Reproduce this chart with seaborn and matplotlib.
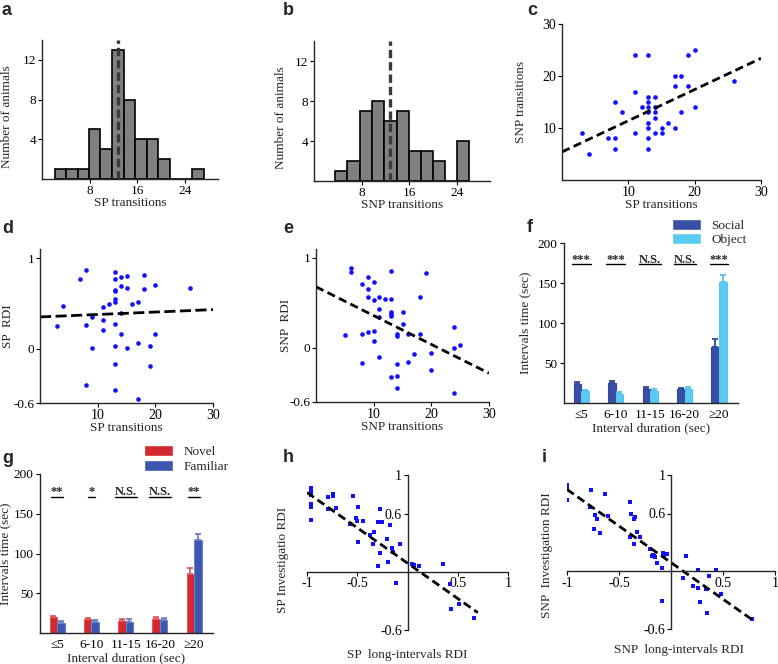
import numpy as np
import pandas as pd
import matplotlib
matplotlib.use('Agg')
import matplotlib.pyplot as plt
import seaborn as sns

# ---- values ----
# a: SP transitions histogram
sp_edges = [2.2, 4.1, 6.0, 7.9, 9.8, 11.7, 13.7, 15.6, 17.6, 19.5, 21.4, 23.3, 25.2, 27.1]
sp_counts = [1, 1, 1, 5, 3, 13, 8, 4, 4, 2, 0, 0, 1]
sp_mean = 12.7

# b: SNP transitions histogram
snp_edges = [3.6, 5.6, 7.7, 9.7, 11.8, 13.9, 15.9, 17.9, 19.9, 21.9, 23.9, 25.9]
snp_counts = [1, 2, 7, 8, 6, 7, 3, 3, 2, 0, 4]
snp_mean = 12.8

# c: SP vs SNP transitions
c_sp = [3, 4, 7, 8, 8, 8, 9, 11, 11, 11, 12, 13, 13, 13, 13, 13, 13, 13, 13, 13,
        14, 14, 14, 14, 14, 15, 15, 16, 17, 17, 17, 18, 18, 19, 19, 20, 20, 26]
c_snp = [9, 5, 8, 8, 6, 15, 13, 24, 17, 9, 14, 24, 16, 15, 14, 13, 11, 10, 8, 6,
         16, 14, 13, 12, 9, 10, 9, 11, 20, 18, 10, 20, 13, 24, 18, 25, 14, 19]
c_fit = (5.4, 0.6)

# d: SP transitions vs SP RDI
d_sp = [3, 4, 7, 8, 8, 8, 9, 9, 11, 11, 11, 12, 13, 13, 13, 13, 13, 13, 13, 13,
        13, 13, 14, 14, 14, 14, 15, 15, 15, 16, 17, 17, 17, 18, 18, 19, 19, 20, 20, 26]
d_rdi = [0.25, 0.47, 0.77, 0.87, 0.26, -0.40, 0.35, 0.01, 0.46, 0.32, 0.21, 0.49,
         0.85, 0.77, 0.65, 0.64, 0.55, 0.51, 0.27, 0.03, -0.17, -0.46, 0.79, 0.69,
         0.39, 0.16, 0.80, 0.67, 0.01, 0.49, 0.52, 0.06, -0.56, 0.81, 0.66, 0.03,
         -0.19, 0.70, 0.16, 0.67]
d_fit = (0.35, 0.0027)

# e: SNP transitions vs SNP RDI
e_snp = [5, 6, 6, 8, 8, 8, 9, 9, 9, 9, 10, 10, 10, 10, 11, 11, 11, 11, 12, 13, 13,
         13, 13, 13, 13, 14, 14, 14, 14, 14, 15, 15, 16, 16, 17, 18, 18, 19, 20, 20,
         24, 24, 24, 25]
e_rdi = [0.15, 0.89, 0.84, 0.71, 0.16, -0.17, 0.79, 0.66, 0.57, 0.18, 0.73, 0.53,
         0.19, 0.08, 0.57, 0.43, 0.35, -0.10, 0.54, 0.86, 0.54, 0.40, 0.38, 0.36,
         -0.32, -0.31, 0.16, 0.13, -0.18, -0.44, 0.40, 0.27, 0.16, -0.16, -0.07,
         0.57, 0.16, 0.83, -0.05, -0.24, 0.23, 0.00, -0.50, 0.03]
e_fit = (0.68, -0.032)

# f: social vs object intervals
intervals = ['≤5', '6-10', '11-15', '16-20', '≥20']
social_mean = [24, 25, 18, 17, 70]
social_err = [2.5, 3, 2, 2, 10]
object_mean = [14.5, 11.5, 15, 17.5, 151]
object_err = [1.5, 2.5, 2.5, 2.5, 9]
f_stars = ['***', '***', 'N.S.', 'N.S.', '***']

# g: novel vs familiar intervals
novel_mean = [19.5, 17.5, 15, 18, 74.5]
novel_err = [2.5, 1.5, 2, 2, 7]
familiar_mean = [13, 14, 14, 16, 117]
familiar_err = [1.5, 2, 3.5, 3, 7]
g_stars = ['**', '*', 'N.S.', 'N.S.', '**']

# h: SP long-intervals RDI vs SP investigation RDI
h_x = [-0.96, -0.96, -0.96, -0.96, -0.96, -0.96, -0.96, -0.79, -0.74, -0.74, -0.79,
       -0.71, -0.54, -0.51, -0.50, -0.49, -0.57, -0.44, -0.49, -0.37, -0.33, -0.34,
       -0.27, -0.29, -0.25, -0.27, -0.29, -0.20, -0.17, -0.19, -0.15, -0.14, -0.07,
       -0.11, 0.04, 0.06, 0.11, 0.35, 0.42, 0.43, 0.51, 0.66]
h_y = [0.87, 0.84, 0.82, 0.79, 0.70, 0.67, 0.54, 0.77, 0.80, 0.78, 0.65, 0.66, 0.78,
       0.56, 0.53, 0.67, 0.49, 0.53, 0.31, 0.38, 0.41, 0.29, 0.65, 0.51, 0.51, 0.20,
       0.06, 0.34, 0.48, 0.10, 0.25, 0.21, 0.29, -0.11, 0.08, 0.07, 0.06, 0.08,
       -0.12, -0.38, -0.33, -0.48]
h_fit = (0.09, -0.73)
h_fit_x = [-1.0, 0.7]

# i: SNP long-intervals RDI vs SNP investigation RDI
i_x = [-1.0, -1.0, -1.0, -1.0, -0.77, -0.78, -0.63, -0.73, -0.71, -0.74, -0.68,
       -0.61, -0.39, -0.38, -0.35, -0.36, -0.33, -0.30, -0.39, -0.36, -0.20, -0.17,
       -0.16, -0.15, -0.18, -0.13, -0.09, -0.08, -0.07, -0.04, 0.14, -0.09, 0.12,
       0.21, 0.26, 0.26, 0.28, 0.34, 0.35, 0.37, 0.43, 0.48, 0.78]
i_y = [0.90, 0.88, 0.85, 0.74, 0.84, 0.67, 0.80, 0.58, 0.54, 0.44, 0.40, 0.57, 0.72,
       0.59, 0.56, 0.54, 0.41, 0.36, 0.36, 0.28, 0.23, 0.17, 0.16, 0.15, 0.16, 0.09,
       0.03, 0.19, 0.17, 0.18, 0.16, -0.31, -0.07, -0.15, 0.01, -0.17, -0.32, -0.18,
       -0.43, -0.05, 0.01, -0.24, -0.50]
i_fit = (0.09, -0.76)
i_fit_x = [-1.0, 0.79]

# ---- style ----
sns.set_style('ticks')
plt.rcParams['font.family'] = ['Liberation Serif', 'DejaVu Serif']
plt.rcParams['axes.unicode_minus'] = False
plt.rcParams['axes.linewidth'] = 1.0
plt.rcParams['xtick.major.size'] = 3
plt.rcParams['ytick.major.size'] = 3
plt.rcParams['xtick.color'] = 'black'
plt.rcParams['ytick.color'] = 'black'

W, H = 778, 664
fig = plt.figure(figsize=(W / 100, H / 100), dpi=100)


def add_ax(l, t, r, b):
    ax = fig.add_axes([l / W, 1 - b / H, (r - l) / W, (b - t) / H])
    sns.despine(ax=ax)
    return ax


def letter(x, y, s):
    fig.text(x / W, 1 - y / H, s, family='Liberation Sans', weight='bold',
             fontsize=13, va='baseline', ha='left')


FS = 9.5


# ---- a, b histograms ----
def hist_panel(ax, edges, counts, mean, xlabel, ylab_x):
    mids = [(lo + hi) / 2 for lo, hi in zip(edges[:-1], edges[1:])]
    sns.histplot(x=mids, weights=counts, bins=edges, color='#808080', alpha=1,
                 edgecolor='black', linewidth=1.2, ax=ax)
    ax.axvline(mean, color='#3a3a3a', lw=2.4, dashes=(2.5, 1.2))
    ax.set_xlim(0, 29.5)
    ax.set_ylim(0, 14)
    ax.set_xticks([8, 16, 24])
    ax.set_yticks([4, 8, 12])
    ax.set_xlabel(xlabel, fontsize=FS, labelpad=0)
    ax.set_ylabel('Number of animals', fontsize=FS)
    ax.yaxis.set_label_coords(ylab_x, 0.45)
    ax.tick_params(labelsize=FS, pad=1)


ax = add_ax(42, 40, 218, 179)
hist_panel(ax, sp_edges, sp_counts, sp_mean, 'SP transitions', -0.165)
ax = add_ax(314, 41, 490, 181)
hist_panel(ax, snp_edges, snp_counts, snp_mean, 'SNP transitions', -0.155)


# ---- c, d, e scatter ----
def scatter_panel(ax, x, y, fit, xlabel, ylabel, dashes, ylab_x):
    sns.scatterplot(x=x, y=y, color='#1010ff', s=11, linewidth=0, ax=ax)
    xs = np.array([0, 30])
    ax.plot(xs, fit[0] + fit[1] * xs, color='black', lw=2, dashes=dashes)
    ax.set_xlim(0, 30)
    ax.set_xticks([10, 20, 30])
    ax.set_xlabel(xlabel, fontsize=FS, labelpad=0)
    ax.set_ylabel(ylabel, fontsize=FS)
    ax.yaxis.set_label_coords(ylab_x, 0.5)
    ax.tick_params(labelsize=FS + 0.5, pad=1)


ax = add_ax(562, 24, 761, 180)
scatter_panel(ax, c_sp, c_snp, c_fit, 'SP transitions', 'SNP transitions',
              (3, 1.6), -0.175)
ax.set_ylim(0, 30)
ax.set_yticks([10, 20, 30])

for box, x, y, fit, xl, yl, dash, lx in [
        ((40, 249, 213, 403), d_sp, d_rdi, d_fit, 'SP transitions', 'SP  RDI',
         (4, 1.6), -0.15),
        ((316, 249, 489, 402), e_snp, e_rdi, e_fit, 'SNP transitions', 'SNP  RDI',
         (3, 1.6), -0.14)]:
    ax = add_ax(*box)
    scatter_panel(ax, x, y, fit, xl, yl, dash, lx)
    ax.set_ylim(-0.6, 1.1)
    ax.set_yticks([-0.6, 0, 1])
    ax.set_yticklabels(['-0.6', '0', '1'])
    ax.tick_params(axis='y', labelsize=FS)


# ---- f, g bar charts ----
def bar_panel(ax, means, errs, names, colors, edgecolors, stars, star_y, line_y,
              leg_xy, ylab_x):
    df = pd.DataFrame({'interval': intervals * 2,
                       'time': means[0] + means[1],
                       'group': [names[0]] * len(intervals) + [names[1]] * len(intervals)})
    sns.barplot(data=df, x='interval', y='time', hue='group', order=intervals,
                hue_order=names, palette=colors, width=0.44, errorbar=None,
                saturation=1, ax=ax)
    for cont, err, ec in zip(ax.containers, errs, edgecolors):
        xs = [p.get_x() + p.get_width() / 2 for p in cont]
        hs = [p.get_height() for p in cont]
        for p in cont:
            p.set_edgecolor(ec)
            p.set_linewidth(0.8)
        ax.errorbar(xs, hs, yerr=[np.zeros(len(err)), err], fmt='none',
                    ecolor=ec, capsize=2.5, elinewidth=1.3, capthick=1.3)
    ax.set_xlim(-0.5, 4.55)
    ax.set_ylim(0, 200)
    ax.set_yticks([50, 100, 150, 200])
    ax.tick_params(axis='x', length=0, pad=4)
    ax.tick_params(axis='y', pad=1.5)
    ax.tick_params(labelsize=FS)
    ax.set_xlabel('Interval duration (sec)', fontsize=FS, labelpad=1)
    ax.set_ylabel('Intervals time (sec)', fontsize=FS)
    ax.yaxis.set_label_coords(ylab_x, 0.5)
    handles, labels = ax.get_legend_handles_labels()
    ax.legend(handles, labels, loc='upper left', bbox_to_anchor=leg_xy,
              frameon=False, fontsize=FS, handlelength=2.2, handleheight=0.9,
              labelspacing=0.1, handletextpad=0.8, borderaxespad=0, borderpad=0)
    texts = []
    for k, s in enumerate(stars):
        texts.append(ax.text(k, star_y, s, ha='center', va='baseline',
                             fontsize=9, weight='bold'))
    fig.canvas.draw()
    inv = ax.transData.inverted()
    for t in texts:
        bb = t.get_window_extent()
        x0 = inv.transform((bb.x0, bb.y0))[0]
        x1 = inv.transform((bb.x1, bb.y0))[0]
        ax.plot([x0, x1], [line_y, line_y], color='black', lw=1)


ax = add_ax(564, 243, 738, 403)
bar_panel(ax, [social_mean, object_mean], [social_err, object_err],
          ['Social', 'Object'], ['#3a4ea6', '#5ccbf3'], ['#34479a', '#57c4ee'],
          f_stars, 175.5, 173.5, (0.62, 1.15), -0.19)

ax = add_ax(40, 474, 213, 633)
bar_panel(ax, [novel_mean, familiar_mean], [novel_err, familiar_err],
          ['Novel', 'Familiar'], ['#d2282e', '#3c57b0'], ['#e05a5e', '#6a80c8'],
          g_stars, 173, 171, (0.6, 1.18), -0.165)


# ---- h, i crossed-axes scatter ----
def cross_panel(ax, x, y, fit, fit_x, xlabel, ylabel, xl_pos, yl_pos):
    sns.scatterplot(x=x, y=y, color='#1010ff', s=5, marker='s', linewidth=0, ax=ax)
    xs = np.array(fit_x)
    ax.plot(xs, fit[0] + fit[1] * xs, color='black', lw=2, dashes=(3, 1.6))
    ax.spines['left'].set_position(('data', 0))
    ax.spines['bottom'].set_position(('data', 0))
    ax.set_xlim(-1, 1)
    ax.set_ylim(-0.6, 1)
    ax.set_xticks([-1, -0.5, 0.5, 1])
    ax.set_xticklabels(['-1', '-0.5', '0.5', '1'])
    ax.set_yticks([-0.6, 0.6, 1])
    ax.set_yticklabels(['-0.6', '0.6', '1'])
    ax.tick_params(labelsize=10, pad=1)
    ax.set_xlabel(xlabel, fontsize=FS)
    ax.set_ylabel(ylabel, fontsize=FS)
    ax.xaxis.set_label_coords(*xl_pos)
    ax.yaxis.set_label_coords(*yl_pos)


ax = add_ax(307, 475, 508, 630)
cross_panel(ax, h_x, h_y, h_fit, h_fit_x, 'SP  long-intervals RDI',
            'SP Investigatio RDI', (0.5, -0.12), (-0.09, 0.45))
ax = add_ax(567, 475, 775, 629)
cross_panel(ax, i_x, i_y, i_fit, i_fit_x, 'SNP  long-intervals RDI',
            'SNP  Investigation RDI', (0.54, -0.1), (-0.065, 0.48))

# panel letters
for x, y, s in [(2, 15, 'a'), (283, 15, 'b'), (527, 15, 'c'), (2, 233, 'd'),
                (283, 233, 'e'), (527, 232, 'f'), (2, 463, 'g'), (283, 462, 'h'),
                (542, 462, 'i')]:
    letter(x, y, s)

fig.savefig('out.png', dpi=100)
